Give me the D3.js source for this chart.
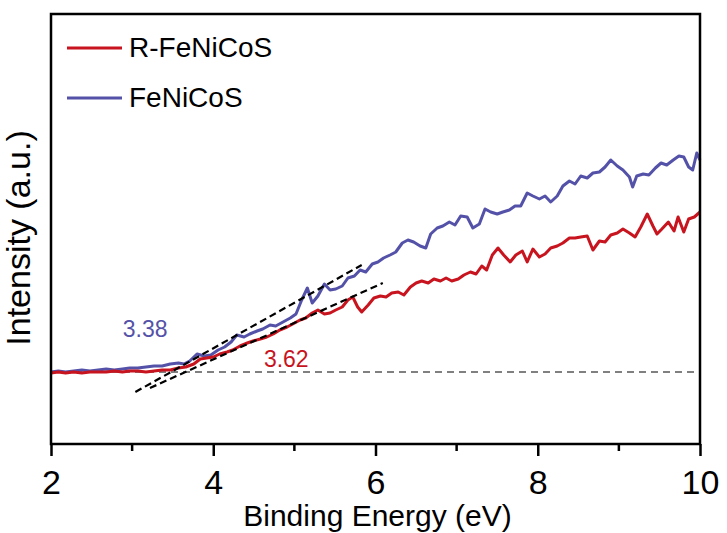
<!DOCTYPE html>
<html>
<head>
<meta charset="utf-8">
<script src="https://cdn.jsdelivr.net/npm/d3@7"></script>
<style>
  body { margin: 0; background: #fff; }
  svg { display: block; }
  text { font-family: Arial, "Liberation Sans", sans-serif; fill: #000; }
</style>
</head>
<body>
<div id="chart"></div>
<script>
// FeNiCoS (blue) : binding energy (eV) / intensity (a.u.)
const blueEnergy = [2.00, 2.09, 2.18, 2.28, 2.38, 2.48, 2.58, 2.68, 2.78, 2.88, 2.97, 3.07, 3.17, 3.27, 3.37, 3.47,
  3.57, 3.64, 3.71, 3.80, 3.89, 3.97, 4.06, 4.14, 4.22, 4.29, 4.38, 4.45, 4.54, 4.61, 4.70, 4.77, 4.86, 4.95,
  5.02, 5.09, 5.16, 5.22, 5.29, 5.37, 5.44, 5.51, 5.59, 5.66, 5.74, 5.81, 5.88, 5.96, 6.03, 6.10, 6.18, 6.25,
  6.33, 6.40, 6.47, 6.55, 6.62, 6.68, 6.76, 6.83, 6.91, 6.98, 7.05, 7.13, 7.20, 7.28, 7.35, 7.42, 7.50, 7.57,
  7.65, 7.72, 7.79, 7.87, 7.94, 8.02, 8.09, 8.16, 8.24, 8.31, 8.39, 8.46, 8.53, 8.61, 8.68, 8.76, 8.83, 8.90,
  8.98, 9.05, 9.13, 9.17, 9.22, 9.30, 9.37, 9.45, 9.52, 9.59, 9.67, 9.74, 9.80, 9.86, 9.91, 9.96, 10.00];
const blueIntensity = [0.0, 0.1, 0.0, 0.1, 0.2, 0.1, 0.2, 0.3, 0.2, 0.3, 0.4, 0.4, 0.5, 0.6, 0.6, 0.8,
  0.9, 0.8, 1.1, 1.8, 1.6, 1.7, 2.2, 2.5, 3.0, 3.7, 3.5, 3.8, 4.1, 4.3, 4.7, 4.6, 5.0, 5.4,
  5.8, 7.2, 8.4, 6.9, 7.6, 8.8, 8.2, 8.3, 8.6, 9.4, 9.6, 10.2, 10.0, 10.8, 11.0, 11.4, 11.7, 12.0,
  12.9, 13.2, 13.0, 12.6, 12.4, 13.8, 14.4, 14.6, 15.0, 14.7, 15.6, 15.5, 14.4, 14.8, 16.3, 16.0, 15.8, 16.0,
  16.2, 16.6, 16.6, 17.9, 17.6, 17.3, 17.6, 17.0, 17.6, 18.6, 19.1, 18.8, 19.6, 19.4, 19.9, 20.0, 20.5, 21.2,
  20.6, 20.2, 19.5, 18.5, 19.6, 19.8, 19.7, 20.4, 20.9, 20.7, 21.2, 21.6, 21.5, 20.5, 20.2, 21.9, 21.2];

// R-FeNiCoS (red)
const redEnergy = [2.00, 2.09, 2.18, 2.28, 2.38, 2.48, 2.58, 2.68, 2.78, 2.88, 2.97, 3.07, 3.17, 3.27, 3.37, 3.47,
  3.57, 3.66, 3.76, 3.84, 3.92, 4.00, 4.08, 4.17, 4.24, 4.33, 4.42, 4.49, 4.58, 4.66, 4.74, 4.82, 4.91, 4.98,
  5.07, 5.14, 5.22, 5.29, 5.37, 5.44, 5.51, 5.59, 5.66, 5.72, 5.78, 5.83, 5.91, 5.98, 6.06, 6.13, 6.20, 6.28,
  6.35, 6.43, 6.50, 6.57, 6.65, 6.72, 6.80, 6.87, 6.94, 7.02, 7.09, 7.17, 7.24, 7.31, 7.37, 7.44, 7.51, 7.58,
  7.66, 7.73, 7.81, 7.87, 7.94, 8.02, 8.09, 8.16, 8.24, 8.31, 8.39, 8.46, 8.53, 8.61, 8.68, 8.76, 8.83, 8.90,
  8.98, 9.05, 9.13, 9.20, 9.27, 9.35, 9.42, 9.47, 9.53, 9.61, 9.68, 9.73, 9.80, 9.86, 9.93, 10.00];
const redIntensity = [-0.1, 0.0, -0.1, 0.0, -0.1, 0.0, 0.0, 0.0, 0.1, 0.0, 0.1, 0.1, 0.0, 0.1, 0.2, 0.2,
  0.4, 0.5, 0.8, 1.3, 1.4, 1.5, 1.8, 2.0, 2.2, 2.6, 2.9, 3.1, 3.3, 3.5, 3.8, 4.2, 4.5, 4.8,
  5.2, 5.4, 5.9, 6.2, 5.8, 5.9, 6.2, 6.5, 7.2, 7.5, 6.5, 6.0, 6.7, 7.4, 7.6, 7.5, 7.9, 8.0,
  7.7, 8.5, 8.9, 9.1, 8.9, 9.3, 9.1, 9.4, 9.1, 9.3, 9.7, 10.0, 9.8, 10.6, 10.2, 11.7, 12.4, 11.7,
  11.0, 11.7, 12.1, 11.0, 12.3, 11.5, 11.8, 12.4, 12.6, 12.9, 13.4, 13.4, 13.5, 13.6, 12.2, 13.1, 13.0, 13.7,
  13.9, 14.3, 13.9, 13.5, 14.5, 15.8, 14.6, 13.8, 14.3, 15.0, 14.1, 15.5, 14.0, 15.3, 15.5, 16.0];

// tangent (onset) lines: [start energy, start intensity, end energy, end intensity]
const blueTangent = [3.04, -2.0, 5.83, 10.7];
const redTangent = [3.22, -1.6, 6.09, 8.9];

const onsetLabels = ["3.38", "3.62"];
const onsetLabelPos = [[3.16, 3.5], [4.90, 0.5]];

const seriesNames = ["R-FeNiCoS", "FeNiCoS"];
const seriesColors = ["#c8141e", "#5452a8"];

const xTicks = [2, 4, 6, 8, 10];
const xMinorTicks = [3, 5, 7, 9];

let width = 727, height = 533;
let margin = { top: 14, right: 27, bottom: 89, left: 51 };

let svg = d3.select('#chart')
  .append('svg')
  .attr('width', width)
  .attr('height', height);

let x = d3.scaleLinear()
  .domain([2, 10])
  .range([margin.left, width - margin.right]);

let y = d3.scaleLinear()
  .domain([-7.2, 35.8])
  .range([height - margin.bottom, margin.top]);

let line = d3.line()
  .x(function(d) { return x(d[0]); })
  .y(function(d) { return y(d[1]); });

// zero baseline
svg.append('line')
  .attr('x1', x(2)).attr('x2', x(10))
  .attr('y1', y(0)).attr('y2', y(0))
  .attr('stroke', '#808080')
  .attr('stroke-width', 2)
  .attr('stroke-dasharray', '7,5');

// spectra
drawSeries(blueEnergy, blueIntensity, seriesColors[1]);
drawSeries(redEnergy, redIntensity, seriesColors[0]);

function drawSeries(energy, intensity, color) {
  let pts = energy.map(function(e, i) { return [e, intensity[i]]; });
  svg.append('path')
    .datum(pts)
    .attr('fill', 'none')
    .attr('stroke', color)
    .attr('stroke-width', 3)
    .attr('stroke-linejoin', 'round')
    .attr('d', line);
}

// tangent lines
[blueTangent, redTangent].forEach(function(t) {
  svg.append('path')
    .datum([[t[0], t[1]], [t[2], t[3]]])
    .attr('fill', 'none')
    .attr('stroke', '#000')
    .attr('stroke-width', 2.2)
    .attr('stroke-dasharray', '7,4')
    .attr('d', line);
});

// onset values
onsetLabels.forEach(function(label, i) {
  svg.append('text')
    .attr('x', x(onsetLabelPos[i][0]))
    .attr('y', y(onsetLabelPos[i][1]))
    .attr('text-anchor', 'middle')
    .style('font-size', '23px')
    .style('fill', i == 0 ? seriesColors[1] : seriesColors[0])
    .text(label);
});

// frame
svg.append('rect')
  .attr('x', x(2))
  .attr('y', margin.top)
  .attr('width', x(10) - x(2))
  .attr('height', y(-7.2) - margin.top)
  .attr('fill', 'none')
  .attr('stroke', '#000')
  .attr('stroke-width', 2.5);

// x axis
let xAxis = svg.append('g')
  .attr('transform', 'translate(0,' + y(-7.2) + ')');

xAxis.call(d3.axisBottom(x)
  .tickValues(xTicks)
  .tickSize(12)
  .tickPadding(12)
  .tickFormat(d3.format('d')));

xAxis.selectAll('.domain').remove();
xAxis.selectAll('.tick line').attr('stroke', '#000').attr('stroke-width', 2.5);
xAxis.selectAll('.tick text')
  .attr('dy', 0)
  .attr('y', 50)
  .style('font-size', '34px')
  .style('font-family', 'Arial, "Liberation Sans", sans-serif');

xAxis.selectAll('.minor')
  .data(xMinorTicks)
  .enter().append('line')
  .attr('class', 'minor')
  .attr('x1', function(d) { return x(d); })
  .attr('x2', function(d) { return x(d); })
  .attr('y1', 0)
  .attr('y2', 7)
  .attr('stroke', '#000')
  .attr('stroke-width', 2.5);

// axis titles
svg.append('text')
  .attr('x', (x(2) + x(10)) / 2 + 2)
  .attr('y', 526)
  .attr('text-anchor', 'middle')
  .style('font-size', '30px')
  .text('Binding Energy (eV)');

svg.append('text')
  .attr('transform', 'translate(30,' + ((margin.top + y(-7.2)) / 2 + 9) + ') rotate(-90)')
  .attr('text-anchor', 'middle')
  .style('font-size', '34px')
  .text('Intensity (a.u.)');

// legend
seriesNames.forEach(function(name, i) {
  let ly = 48 + i * 50;
  svg.append('line')
    .attr('x1', 67).attr('x2', 122)
    .attr('y1', ly).attr('y2', ly)
    .attr('stroke', seriesColors[i])
    .attr('stroke-width', 3);
  svg.append('text')
    .attr('x', 129)
    .attr('y', ly + 9)
    .style('font-size', '28px')
    .text(name);
});
</script>
</body>
</html>
